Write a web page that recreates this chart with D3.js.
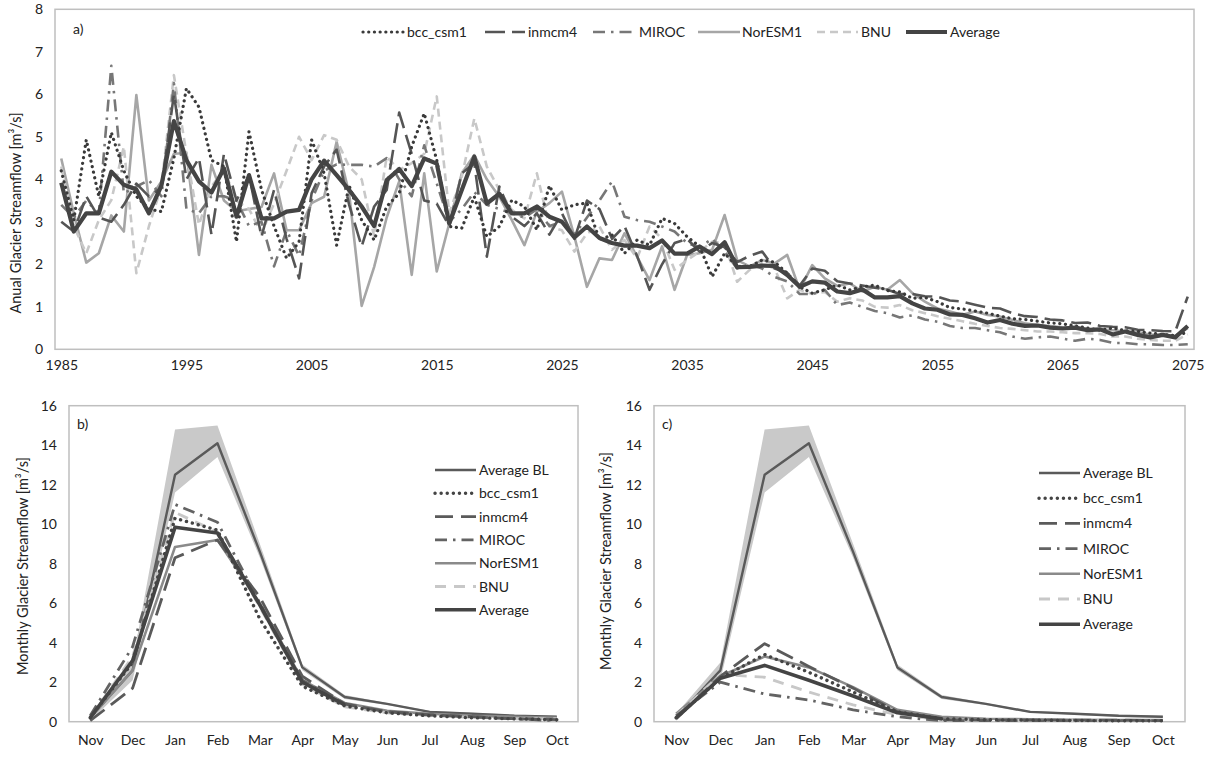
<!DOCTYPE html>
<html><head><meta charset="utf-8">
<script src="https://cdn.jsdelivr.net/npm/d3@7"></script>
<style>
body{margin:0;background:#fff}
text{font-family:Lato,"Open Sans",sans-serif;fill:#222}
</style>
</head><body>
<svg id="chart" width="1213" height="757"></svg>
<script>
// ---------- Panel a) annual data (1985-2075) ----------
const years = d3.range(1985, 2076);
const yearTicks = [1985,1995,2005,2015,2025,2035,2045,2055,2065,2075];
const annualTicks = [0,1,2,3,4,5,6,7,8];

const annBcc = [4.2,3.04,4.93,3.6,5.1,4.2,3.6,3.3,3.24,4.5,6.14,5.7,4.45,4.3,2.53,5.12,3.75,2.9,2.14,2.53,
  4.93,4.14,2.45,3.85,3.04,2.57,3.36,3.67,4.77,5.55,4.45,2.89,2.85,3.59,2.65,2.89,3.51,3.36,2.81,3.85,
  3.28,3.4,3.44,2.57,2.69,2.26,2.57,2.45,3.08,2.96,2.65,2.42,1.71,2.26,1.95,1.95,2.1,2.05,1.79,1.47,
  1.32,1.4,1.51,1.4,1.47,1.51,1.38,1.35,1.2,1.22,1.12,0.98,0.95,0.9,0.85,0.78,0.72,0.7,0.66,0.62,
  0.6,0.55,0.5,0.45,0.5,0.44,0.42,0.38,0.35,0.32,0.4];
const annInmcm4 = [3.0,2.77,3.6,3.1,3.0,3.4,3.9,3.6,3.8,6.0,4.0,4.5,2.7,4.6,3.5,4.1,2.65,3.75,2.6,1.67,
  3.67,4.3,4.7,3.4,2.42,3.36,3.75,5.57,4.6,3.5,3.43,2.9,4.14,4.38,2.18,3.83,3.12,2.9,3.2,2.7,
  3.2,2.6,3.5,3.3,2.6,2.9,2.2,1.4,2.0,2.5,2.6,2.3,2.5,2.4,2.05,2.2,2.3,1.9,1.8,1.5,
  1.9,1.85,1.6,1.55,1.5,1.45,1.4,1.3,1.3,1.25,1.24,1.15,1.12,1.05,0.98,0.96,0.85,0.78,0.76,0.7,
  0.68,0.62,0.63,0.55,0.53,0.52,0.46,0.45,0.43,0.42,1.24];
const annMiroc = [3.4,3.1,3.5,3.2,6.67,3.67,3.83,3.98,3.6,6.26,3.3,3.2,3.6,3.6,3.5,2.9,3.0,1.95,2.8,2.2,
  3.5,4.2,4.35,4.34,4.34,4.3,4.5,4.0,3.6,4.8,3.9,3.0,3.3,3.7,3.4,3.3,3.2,3.1,3.3,2.9,
  3.0,2.7,3.1,3.5,3.95,3.12,3.04,3.0,2.89,2.77,2.5,2.4,2.6,2.3,1.9,2.0,1.9,1.7,1.6,1.3,
  1.3,1.4,1.04,1.1,1.0,0.9,0.85,0.75,0.8,0.7,0.65,0.55,0.5,0.5,0.45,0.4,0.3,0.25,0.28,0.3,
  0.25,0.2,0.25,0.22,0.15,0.15,0.12,0.12,0.1,0.1,0.12];
const annNorESM1 = [4.49,3.2,2.04,2.26,3.15,2.77,5.98,3.5,3.95,4.6,4.62,2.22,4.34,3.5,3.25,3.3,3.35,4.14,2.8,2.8,
  3.44,3.59,4.88,3.67,1.02,1.94,3.1,3.95,1.75,4.14,1.83,2.96,4.14,4.57,4.0,3.59,3.04,2.45,3.24,3.44,
  3.71,2.65,1.47,2.14,2.1,2.73,2.18,1.63,2.42,1.4,2.22,2.26,2.34,3.16,2.1,1.95,2.1,2.02,2.22,1.4,
  1.98,1.67,1.49,1.55,1.36,1.47,1.4,1.63,1.32,1.12,0.96,0.89,0.81,0.89,0.81,0.77,0.69,0.61,0.57,0.55,
  0.52,0.5,0.48,0.47,0.45,0.42,0.4,0.35,0.33,0.32,0.5];
const annBnu = [4.3,2.9,2.26,3.04,3.51,4.77,1.79,2.89,3.83,6.45,4.6,2.93,3.83,4.22,3.5,3.3,2.73,3.43,4.2,5.0,
  4.45,5.04,4.93,4.3,4.0,2.65,4.53,4.22,4.38,4.6,5.95,3.2,4.06,5.43,4.3,3.75,3.28,3.08,4.14,2.89,
  2.8,2.3,2.73,2.89,2.34,2.57,2.14,2.89,2.6,1.87,2.1,2.3,2.53,2.49,1.59,1.87,2.02,1.9,1.2,1.4,
  1.3,1.35,1.12,1.2,1.15,1.0,0.98,1.04,0.92,0.85,0.78,0.72,0.66,0.6,0.55,0.5,0.48,0.45,0.42,0.42,
  0.4,0.38,0.38,0.36,0.3,0.3,0.25,0.22,0.2,0.2,0.35];
const annAverage = [3.92,2.77,3.2,3.2,4.18,3.87,3.76,3.2,3.85,5.37,4.45,3.95,3.69,4.26,3.12,4.1,3.08,3.08,3.24,3.28,
  4.0,4.44,4.1,3.75,3.36,2.9,3.98,4.24,3.84,4.49,4.37,2.96,3.75,4.53,3.43,3.66,3.2,3.2,3.36,3.12,
  3.0,2.63,2.89,2.62,2.5,2.44,2.44,2.38,2.56,2.25,2.25,2.42,2.24,2.52,1.93,1.94,1.97,1.96,1.75,1.47,
  1.6,1.57,1.36,1.32,1.41,1.22,1.22,1.25,1.08,0.96,0.93,0.82,0.81,0.73,0.63,0.69,0.6,0.55,0.56,0.51,
  0.49,0.51,0.45,0.47,0.35,0.42,0.34,0.28,0.34,0.28,0.55];

// ---------- Panels b) and c) monthly data ----------
const months = ["Nov","Dec","Jan","Feb","Mar","Apr","May","Jun","Jul","Aug","Sep","Oct"];
const monthlyTicks = [0,2,4,6,8,10,12,14,16];
const blAverage = [0.2,2.6,12.5,14.1,8.6,2.75,1.25,0.9,0.5,0.4,0.3,0.25];
const blUpper   = [0.4,3.0,14.8,15.0,9.0,2.9,1.35,0.95,0.55,0.45,0.35,0.3];
const blLower   = [0.05,2.1,11.6,13.4,8.3,2.6,1.15,0.85,0.45,0.35,0.25,0.2];

const bBcc     = [0.2,3.0,10.3,9.7,5.2,1.8,0.8,0.45,0.3,0.2,0.15,0.1];
const bInmcm4  = [0.05,1.7,8.3,9.2,6.3,2.3,0.9,0.5,0.35,0.25,0.15,0.1];
const bMiroc   = [0.3,3.8,11.0,10.1,6.0,2.1,0.9,0.5,0.35,0.25,0.15,0.05];
const bNorESM1 = [0.2,2.6,8.85,9.2,6.0,2.1,0.95,0.55,0.4,0.3,0.25,0.2];
const bBnu     = [0.2,3.3,10.6,9.6,5.8,1.9,0.75,0.45,0.3,0.22,0.15,0.15];
const bAverage = [0.2,3.1,9.85,9.55,5.9,2.0,0.85,null,null,null,null,null];

const cBcc     = [0.2,2.2,3.4,2.5,1.5,0.5,0.15,0.1,0.08,0.06,0.05,0.05];
const cInmcm4  = [0.15,2.3,3.95,2.8,1.7,0.5,0.1,0.08,0.08,0.08,0.08,0.05];
const cMiroc   = [0.3,2.0,1.4,1.1,0.6,0.25,0.05,0.05,0.05,0.05,0.05,0.05];
const cNorESM1 = [0.4,2.3,3.3,2.75,1.75,0.6,0.25,0.15,0.12,0.1,0.08,0.08];
const cBnu     = [0.3,2.4,2.25,1.5,0.85,0.35,0.1,0.08,0.05,0.05,0.05,0.05];
const cAverage = [0.2,2.2,2.85,2.1,1.3,0.45,0.15,null,null,null,null,null];

// ---------- styles ----------
const S = {
  bcc:    {stroke:"#3a3a3a", width:3.2, dash:"0.1,5.6", cap:"round"},
  inmcm4: {stroke:"#555555", width:2.6, dash:"20,7", cap:"butt"},
  miroc:  {stroke:"#777777", width:2.6, dash:"12,6,2.5,6", cap:"butt"},
  nor:    {stroke:"#a6a6a6", width:2.6, dash:null, cap:"butt"},
  bnu:    {stroke:"#c8c8c8", width:2.6, dash:"8,5", cap:"butt"},
  avg:    {stroke:"#444444", width:4.2, dash:null, cap:"butt"},
  bl:     {stroke:"#5a5a5a", width:2.6, dash:null, cap:"butt"}
};
const Sm = {
  bcc:    {stroke:"#444444", width:3.4, dash:"0.1,6", cap:"round"},
  inmcm4: {stroke:"#5a5a5a", width:2.8, dash:"18,8", cap:"butt"},
  miroc:  {stroke:"#636363", width:2.8, dash:"12,6,2.5,6", cap:"butt"},
  nor:    {stroke:"#8a8a8a", width:2.6, dash:null, cap:"butt"},
  bnu:    {stroke:"#c8c8c8", width:2.8, dash:"11,8", cap:"butt"},
  avg:    {stroke:"#444444", width:3.6, dash:null, cap:"butt"},
  bl:     {stroke:"#5a5a5a", width:2.4, dash:null, cap:"butt"}
};

const svg = d3.select("#chart");
function styleLine(sel, st){
  sel.attr("fill","none").attr("stroke",st.stroke).attr("stroke-width",st.width)
     .attr("stroke-linecap",st.cap).attr("stroke-linejoin","round");
  if(st.dash) sel.attr("stroke-dasharray",st.dash);
  return sel;
}

// ================= Panel a =================
(function(){
  const x = d3.scalePoint().domain(years).range([55,1194]).padding(0.5);
  const y = d3.scaleLinear().domain([0,8]).range([349.3,9.3]);
  svg.append("rect").attr("x",55).attr("y",9.3).attr("width",1139).attr("height",340)
     .attr("fill","none").attr("stroke","#bfbfbf").attr("stroke-width",1.5);
  const yAx = svg.append("g").attr("transform","translate(55,0)")
     .call(d3.axisLeft(y).tickValues(annualTicks).tickSize(0).tickPadding(12));
  yAx.select(".domain").remove();
  yAx.selectAll("text").style("font-family","Lato").style("font-size","14px").attr("fill","#222");
  const xAx = svg.append("g").attr("transform","translate(0,349.3)")
     .call(d3.axisBottom(x).tickValues(yearTicks).tickSize(0).tickPadding(11));
  xAx.select(".domain").remove();
  xAx.selectAll("text").style("font-family","Lato").style("font-size","14px").attr("fill","#222");

  svg.append("text").attr("transform","translate(21,213) rotate(-90)").attr("text-anchor","middle")
     .style("font-size","14.5px").text("Anual Glacier Streamflow [m³/s]");
  svg.append("text").attr("x",73).attr("y",34).style("font-size","14px").text("a)");

  const series = [
    [annNorESM1,S.nor],[annBnu,S.bnu],[annMiroc,S.miroc],[annInmcm4,S.inmcm4],[annBcc,S.bcc],[annAverage,S.avg]
  ];
  series.forEach(([vals,st])=>{
    const line = d3.line().x((d,i)=>x(years[i])).y(d=>y(d));
    styleLine(svg.append("path").attr("d",line(vals)), st);
  });

  const leg = [
    ["bcc_csm1",S.bcc,363,403,407],["inmcm4",S.inmcm4,485,525,528],["MIROC",S.miroc,593,636,639],
    ["NorESM1",S.nor,698,740,742],["BNU",S.bnu,817,858,861],["Average",S.avg,906,947,950]
  ];
  leg.forEach(([name,st,x1,x2,tx])=>{
    styleLine(svg.append("line").attr("x1",x1).attr("x2",x2).attr("y1",32).attr("y2",32),st);
    svg.append("text").attr("x",tx).attr("y",37).style("font-size","14px").text(name);
  });
})();

// ================= Panels b and c =================
function monthlyPanel(o){
  const x = d3.scalePoint().domain(months).range([o.left,o.right]).padding(0.5);
  const y = d3.scaleLinear().domain([0,16]).range([721.7,405.7]);
  svg.append("rect").attr("x",o.left).attr("y",405.7).attr("width",o.right-o.left).attr("height",316)
     .attr("fill","none").attr("stroke","#bfbfbf").attr("stroke-width",1.5);
  const yAx = svg.append("g").attr("transform",`translate(${o.left},0)`)
     .call(d3.axisLeft(y).tickValues(monthlyTicks).tickSize(0).tickPadding(12));
  yAx.select(".domain").remove();
  yAx.selectAll("text").style("font-family","Lato").style("font-size","14px").attr("fill","#222");
  const xAx = svg.append("g").attr("transform","translate(0,721.7)")
     .call(d3.axisBottom(x).tickSize(0).tickPadding(13));
  xAx.select(".domain").remove();
  xAx.selectAll("text").style("font-family","Lato").style("font-size","14px").attr("fill","#222");

  svg.append("text").attr("transform",`translate(${o.titleX},${o.titleY}) rotate(-90)`).attr("text-anchor","middle")
     .style("font-size","14.5px").text("Monthly Glacier Streamflow [m³/s]");
  svg.append("text").attr("x",o.left+8).attr("y",429).style("font-size","14px").text(o.label);

  const area = d3.area().x((d,i)=>x(months[i])).y0((d,i)=>y(blLower[i])).y1(d=>y(d));
  svg.append("path").attr("d",area(blUpper)).attr("fill","#c9c9c9");

  const line = d3.line().defined(d=>d!==null).x((d,i)=>x(months[i])).y(d=>y(d));
  const series = [
    [blAverage,Sm.bl],[o.d.nor,Sm.nor],[o.d.bnu,Sm.bnu],[o.d.miroc,Sm.miroc],[o.d.inmcm4,Sm.inmcm4],
    [o.d.bcc,Sm.bcc],[o.d.avg,Sm.avg]
  ];
  series.forEach(([vals,st])=>styleLine(svg.append("path").attr("d",line(vals)),st));

  const legItems = [["Average BL",Sm.bl],["bcc_csm1",Sm.bcc],["inmcm4",Sm.inmcm4],["MIROC",Sm.miroc],
    ["NorESM1",Sm.nor],["BNU",Sm.bnu],["Average",Sm.avg]];
  legItems.forEach(([name,st],k)=>{
    const yy = o.legY + k*o.legStep;
    styleLine(svg.append("line").attr("x1",o.legX1).attr("x2",o.legX2).attr("y1",yy).attr("y2",yy),st);
    svg.append("text").attr("x",o.legX2+3).attr("y",yy+5).style("font-size","14px").text(name);
  });
}
monthlyPanel({left:69,right:578,label:"b)",titleX:28,titleY:566,legX1:435,legX2:476,legY:470,legStep:23.3,
  d:{bcc:bBcc,inmcm4:bInmcm4,miroc:bMiroc,nor:bNorESM1,bnu:bBnu,avg:bAverage}});
monthlyPanel({left:654,right:1185,label:"c)",titleX:611,titleY:561,legX1:1039,legX2:1080,legY:473,legStep:25.2,
  d:{bcc:cBcc,inmcm4:cInmcm4,miroc:cMiroc,nor:cNorESM1,bnu:cBnu,avg:cAverage}});
</script>
</body></html>
